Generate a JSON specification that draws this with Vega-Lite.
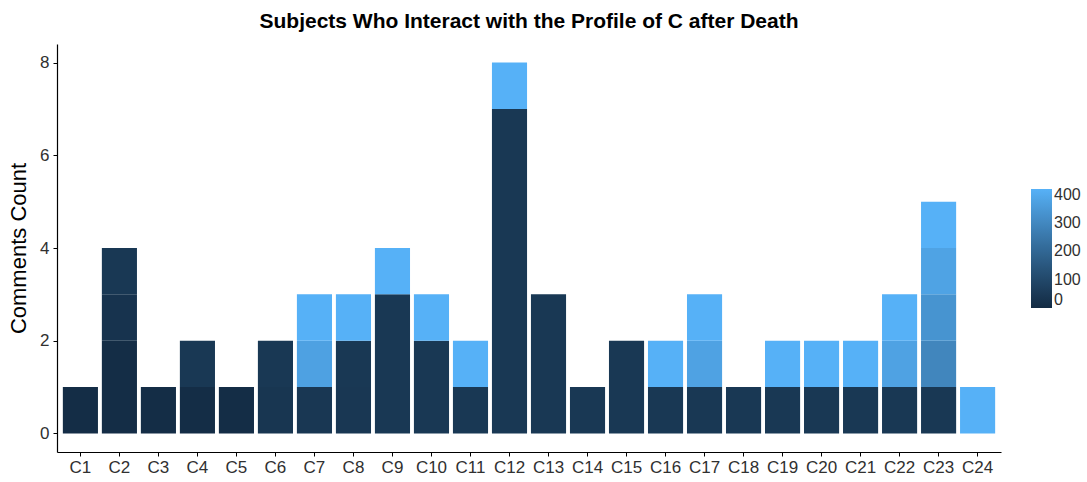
{
  "$schema": "https://vega.github.io/schema/vega-lite/v6.json",
  "autosize": {"type": "none"},
  "width": 944,
  "height": 408,
  "padding": {"left": 57, "top": 44, "right": 86, "bottom": 30},
  "background": "white",
  "title": {
    "text": "Subjects Who Interact with the Profile of C after Death",
    "font": "Liberation Sans",
    "fontSize": 21,
    "fontWeight": "bold",
    "color": "#000000",
    "anchor": "middle",
    "offset": 12
  },
  "config": {
    "view": {"stroke": null},
    "font": "Liberation Sans"
  },
  "data": {
    "values": [
      {"subject": "C1", "seg": 1, "count": 1, "value": 8},
      {"subject": "C2", "seg": 1, "count": 2, "value": 8},
      {"subject": "C2", "seg": 2, "count": 1, "value": 30},
      {"subject": "C2", "seg": 3, "count": 1, "value": 45},
      {"subject": "C3", "seg": 1, "count": 1, "value": 8},
      {"subject": "C4", "seg": 1, "count": 1, "value": 8},
      {"subject": "C4", "seg": 2, "count": 1, "value": 45},
      {"subject": "C5", "seg": 1, "count": 1, "value": 8},
      {"subject": "C6", "seg": 1, "count": 1, "value": 38},
      {"subject": "C6", "seg": 2, "count": 1, "value": 45},
      {"subject": "C7", "seg": 1, "count": 1, "value": 42},
      {"subject": "C7", "seg": 2, "count": 1, "value": 375},
      {"subject": "C7", "seg": 3, "count": 1, "value": 420},
      {"subject": "C8", "seg": 1, "count": 1, "value": 42},
      {"subject": "C8", "seg": 2, "count": 1, "value": 45},
      {"subject": "C8", "seg": 3, "count": 1, "value": 420},
      {"subject": "C9", "seg": 1, "count": 3, "value": 45},
      {"subject": "C9", "seg": 2, "count": 1, "value": 420},
      {"subject": "C10", "seg": 1, "count": 2, "value": 45},
      {"subject": "C10", "seg": 2, "count": 1, "value": 420},
      {"subject": "C11", "seg": 1, "count": 1, "value": 45},
      {"subject": "C11", "seg": 2, "count": 1, "value": 420},
      {"subject": "C12", "seg": 1, "count": 7, "value": 45},
      {"subject": "C12", "seg": 2, "count": 1, "value": 420},
      {"subject": "C13", "seg": 1, "count": 3, "value": 45},
      {"subject": "C14", "seg": 1, "count": 1, "value": 45},
      {"subject": "C15", "seg": 1, "count": 2, "value": 45},
      {"subject": "C16", "seg": 1, "count": 1, "value": 45},
      {"subject": "C16", "seg": 2, "count": 1, "value": 420},
      {"subject": "C17", "seg": 1, "count": 1, "value": 45},
      {"subject": "C17", "seg": 2, "count": 1, "value": 378},
      {"subject": "C17", "seg": 3, "count": 1, "value": 420},
      {"subject": "C18", "seg": 1, "count": 1, "value": 45},
      {"subject": "C19", "seg": 1, "count": 1, "value": 45},
      {"subject": "C19", "seg": 2, "count": 1, "value": 420},
      {"subject": "C20", "seg": 1, "count": 1, "value": 45},
      {"subject": "C20", "seg": 2, "count": 1, "value": 420},
      {"subject": "C21", "seg": 1, "count": 1, "value": 45},
      {"subject": "C21", "seg": 2, "count": 1, "value": 420},
      {"subject": "C22", "seg": 1, "count": 1, "value": 45},
      {"subject": "C22", "seg": 2, "count": 1, "value": 378},
      {"subject": "C22", "seg": 3, "count": 1, "value": 420},
      {"subject": "C23", "seg": 1, "count": 1, "value": 45},
      {"subject": "C23", "seg": 2, "count": 1, "value": 295},
      {"subject": "C23", "seg": 3, "count": 1, "value": 335},
      {"subject": "C23", "seg": 4, "count": 1, "value": 380},
      {"subject": "C23", "seg": 5, "count": 1, "value": 420},
      {"subject": "C24", "seg": 1, "count": 1, "value": 420}
    ]
  },
  "mark": {"type": "bar"},
  "encoding": {
    "x": {
      "field": "subject",
      "type": "nominal",
      "sort": ["C1","C2","C3","C4","C5","C6","C7","C8","C9","C10","C11","C12","C13","C14","C15","C16","C17","C18","C19","C20","C21","C22","C23","C24"],
      "scale": {"paddingInner": 0.1, "paddingOuter": 0.15},
      "axis": {
        "title": null,
        "labelAngle": 0,
        "labelFontSize": 17,
        "labelColor": "#303030",
        "labelPadding": 3,
        "domainColor": "#000000",
        "domainWidth": 1.2,
        "tickColor": "#000000",
        "tickSize": 4,
        "grid": false
      }
    },
    "y": {
      "field": "count",
      "type": "quantitative",
      "stack": "zero",
      "scale": {"domain": [-0.4, 8.4], "nice": false, "zero": false},
      "axis": {
        "title": "Comments Count",
        "titleFontSize": 22,
        "titleFontWeight": "normal",
        "titleColor": "#000000",
        "titlePadding": 9,
        "values": [0, 2, 4, 6, 8],
        "labelFontSize": 17,
        "labelColor": "#303030",
        "labelPadding": 4,
        "domainColor": "#000000",
        "domainWidth": 1.2,
        "tickColor": "#000000",
        "tickSize": 4,
        "grid": false
      }
    },
    "order": {"field": "seg", "type": "quantitative", "sort": "ascending"},
    "color": {
      "field": "value",
      "type": "quantitative",
      "scale": {"domain": [0, 420], "range": ["#132B43", "#56B1F7"], "interpolate": "lab"},
      "legend": {
        "title": null,
        "orient": "none",
        "legendX": 974,
        "legendY": 145,
        "direction": "vertical",
        "gradientLength": 119,
        "gradientThickness": 21,
        "gradientStrokeWidth": 0,
        "values": [0, 100, 200, 300, 400],
        "labelFontSize": 16,
        "labelColor": "#303030",
        "labelOffset": 2
      }
    }
  }
}
